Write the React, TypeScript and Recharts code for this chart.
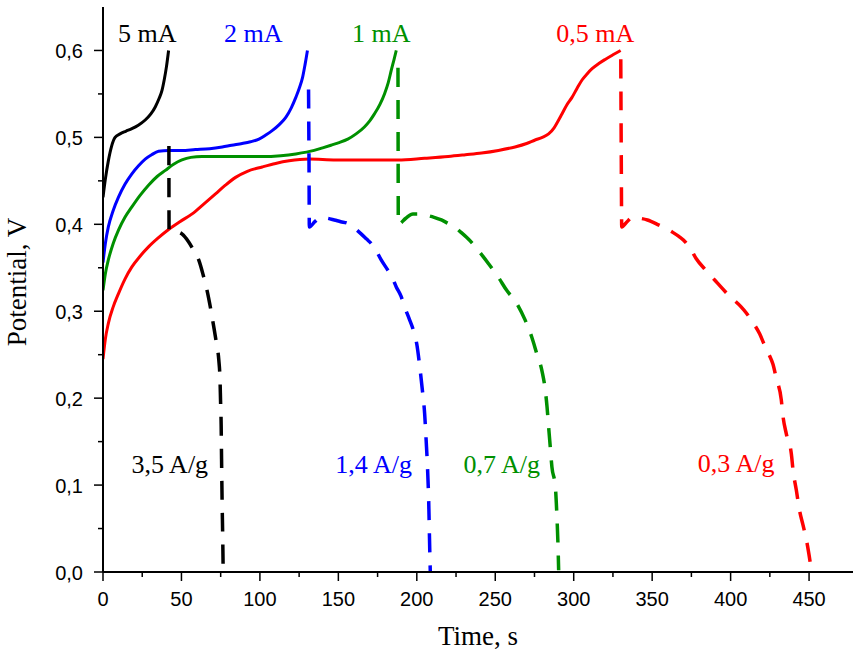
import React from "react"
import {
  LineChart,
  Line,
  XAxis,
  YAxis,
  ReferenceDot,
  Label,
} from "recharts"

// time (s) / potential (V) pairs
const charge5mA: [number, number][] = [
  [0, 0.431], [1.5, 0.452], [3.4, 0.473], [5.5, 0.49], [7.7, 0.5], [10.9, 0.504],
  [14.5, 0.507], [18.4, 0.51], [22.5, 0.514], [26.9, 0.52], [30.5, 0.527], [33.3, 0.535],
  [35.8, 0.545], [37.6, 0.554], [39.0, 0.566], [40.5, 0.582], [41.8, 0.6],
]
const discharge5mA: [number, number][] = [
  [42.0, 0.49], [42.1, 0.393], [46, 0.392], [50.3, 0.389], [54.5, 0.38], [57.8, 0.37],
  [61, 0.359], [63.8, 0.342], [66.3, 0.324], [68.6, 0.303], [70.6, 0.282], [72.4, 0.262],
  [73.8, 0.244], [74.6, 0.22], [74.9, 0.198], [75.3, 0.17], [75.5, 0.14], [75.7, 0.11],
  [75.9, 0.083], [76.3, 0.04], [76.6, 0.0],
]
const charge2mA: [number, number][] = [
  [0, 0.356], [1.5, 0.378], [3.4, 0.397], [6.5, 0.416], [9.8, 0.431], [14, 0.446],
  [18.4, 0.458], [22.5, 0.467], [26.9, 0.475], [31, 0.48], [35.4, 0.484], [41.8, 0.485],
  [50, 0.485], [58.9, 0.486], [68, 0.487], [76, 0.489], [82, 0.491], [88.7, 0.493],
  [94, 0.495], [99.4, 0.498], [104, 0.503], [108, 0.508], [112.5, 0.515], [116.5, 0.523],
  [120, 0.534], [122.9, 0.546], [125.2, 0.557], [127.2, 0.569], [128.8, 0.584], [130.3, 0.6],
]
const discharge2mA: [number, number][] = [
  [131.0, 0.555], [131.3, 0.47], [131.5, 0.397], [135, 0.403], [138.9, 0.408], [143, 0.407],
  [147.4, 0.405], [151.5, 0.403], [156, 0.401], [160, 0.396], [164.5, 0.389], [168, 0.383],
  [170.9, 0.378], [174, 0.37], [177.3, 0.359], [181.6, 0.347], [184.5, 0.338], [186.9, 0.328],
  [190, 0.317], [192.2, 0.305], [195, 0.292], [198, 0.277], [200, 0.262], [201.9, 0.236],
  [203.5, 0.21], [205, 0.182], [206, 0.15], [206.8, 0.121], [207.6, 0.08], [208.3, 0.021],
  [208.6, 0.0],
]
const charge1mA: [number, number][] = [
  [0, 0.324], [1.5, 0.343], [3.4, 0.359], [6.5, 0.378], [9.8, 0.393], [14, 0.408],
  [18.4, 0.42], [23.5, 0.433], [29, 0.445], [34.5, 0.455], [39.7, 0.462], [45, 0.469],
  [50.3, 0.474], [56, 0.477], [63.1, 0.478], [80.2, 0.478], [101.5, 0.478], [113.3, 0.479],
  [122.9, 0.481], [134.6, 0.485], [140, 0.488], [145.3, 0.491], [150.5, 0.494], [156, 0.498],
  [161.3, 0.504], [166.6, 0.512], [170, 0.519], [173, 0.527], [176.5, 0.538], [179.4, 0.55],
  [181.8, 0.563], [183.7, 0.577], [185.4, 0.589], [186.9, 0.6],
]
const discharge1mA: [number, number][] = [
  [188.0, 0.58], [188.1, 0.48], [188.2, 0.4], [193, 0.407], [197.5, 0.412], [202, 0.412],
  [207, 0.41], [211, 0.408], [215.7, 0.405], [220, 0.401], [224.2, 0.397], [228, 0.391],
  [231.7, 0.385], [235.5, 0.378], [239.2, 0.37], [245.6, 0.355], [252, 0.339], [257.3, 0.324],
  [263.7, 0.309], [269, 0.29], [273.3, 0.27], [276.5, 0.251], [279.7, 0.232], [281.9, 0.209],
  [283, 0.19], [284, 0.167], [285, 0.145], [286.1, 0.121], [288.3, 0.098], [289.3, 0.064],
  [290, 0.03], [290.4, 0.002],
]
const charge05mA: [number, number][] = [
  [0, 0.245], [1.5, 0.268], [3.4, 0.286], [6.5, 0.305], [9.8, 0.32], [14, 0.337],
  [18.4, 0.351], [23.5, 0.363], [29, 0.374], [35, 0.384], [41.8, 0.394], [49, 0.403],
  [56.8, 0.412], [64, 0.423], [71.7, 0.435], [78, 0.445], [84.5, 0.454], [92, 0.461],
  [101.5, 0.466], [110, 0.47], [118.6, 0.473], [131.4, 0.475], [148.5, 0.474], [161.3, 0.474],
  [175, 0.474], [188, 0.474], [205, 0.476], [220, 0.478], [231, 0.48], [241.3, 0.482],
  [252, 0.485], [262.6, 0.489], [270, 0.493], [275.4, 0.497], [280, 0.5], [284, 0.504],
  [287.5, 0.511], [290.4, 0.52], [292.5, 0.527], [295.5, 0.537], [298.9, 0.546], [302, 0.556],
  [305.3, 0.566], [308.5, 0.573], [311.7, 0.579], [316, 0.585], [320.3, 0.59], [325, 0.595],
  [329.9, 0.6],
]
const discharge05mA: [number, number][] = [
  [330.0, 0.59], [330.3, 0.48], [330.6, 0.397], [334, 0.403], [337.3, 0.408], [342, 0.407],
  [347, 0.405], [354.4, 0.399], [359, 0.395], [362.9, 0.391], [367, 0.386], [371.5, 0.379],
  [375, 0.37], [377.9, 0.361], [384.3, 0.347], [391.8, 0.332], [399, 0.318], [406.7, 0.305],
  [410, 0.298], [413.1, 0.29], [418.5, 0.274], [421.6, 0.261], [424.5, 0.25], [427, 0.239],
  [429.1, 0.223], [432.3, 0.198], [433.4, 0.179], [435.5, 0.159], [438.7, 0.136], [439.8, 0.117],
  [441.9, 0.094], [444.0, 0.07], [446, 0.055], [448.3, 0.037], [451.5, 0.002],
]

const xTicks = [0, 25, 50, 75, 100, 125, 150, 175, 200, 225, 250, 275, 300, 325, 350, 375, 400, 425, 450]
const yTicks = [0, 0.05, 0.1, 0.15, 0.2, 0.25, 0.3, 0.35, 0.4, 0.45, 0.5, 0.55, 0.6]

const currentLabels = ["5 mA", "2 mA", "1 mA", "0,5 mA"]
const densityLabels = ["3,5 A/g", "1,4 A/g", "0,7 A/g", "0,3 A/g"]
// where each label sits (time, potential of its baseline centre)
const currentLabelAt: [number, number][] = [[28.2, 0.61], [95.8, 0.61], [177.3, 0.61], [313.7, 0.61]]
const densityLabelAt: [number, number][] = [[42.6, 0.114], [172.5, 0.114], [254.1, 0.114], [403.5, 0.115]]

const colors = ["#000000", "#0000ff", "#009000", "#ff0000"]

const toPts = (arr: [number, number][]) => arr.map(([t, v]) => ({ t, v }))

const SANS = "Arial, 'Liberation Sans', sans-serif"
const SERIF = "'Times New Roman', 'Liberation Serif', serif"

const XTick = (props: any) => {
  const { x, y, payload } = props
  const major = payload.value % 50 === 0
  return (
    <g>
      <line x1={x} x2={x} y1={y} y2={y + (major ? 9 : 5)} stroke="#000" strokeWidth={1.5} />
      {major && (
        <text x={x} y={y + 34} textAnchor="middle" fontSize={20} fontFamily={SANS} fill="#000">
          {payload.value}
        </text>
      )}
    </g>
  )
}

const YTick = (props: any) => {
  const { x, y, payload } = props
  const major = Math.round(payload.value * 100) % 10 === 0
  return (
    <g>
      <line x1={x - (major ? 9 : 5)} x2={x} y1={y} y2={y} stroke="#000" strokeWidth={1.5} />
      {major && (
        <text x={x - 20} y={y + 7.5} textAnchor="end" fontSize={20} fontFamily={SANS} fill="#000">
          {payload.value.toFixed(1).replace(".", ",")}
        </text>
      )}
    </g>
  )
}

const note = (text: string, color: string) => (p: any) => {
  const vb = p.viewBox || {}
  const cx = (vb.x ?? 0) + (vb.width ?? 0) / 2
  const cy = (vb.y ?? 0) + (vb.height ?? 0) / 2
  return (
    <text x={cx} y={cy} textAnchor="middle" fontSize={26} fontFamily={SERIF} fill={color}>
      {text}
    </text>
  )
}

export default function App() {
  const charges = [charge5mA, charge2mA, charge1mA, charge05mA]
  const discharges = [discharge5mA, discharge2mA, discharge1mA, discharge05mA]

  return (
    <div style={{ position: "absolute", left: 0, top: 0, background: "#fff" }}>
      <LineChart width={861} height={661} margin={{ top: 7, right: 8, bottom: 0, left: 0 }}>
        <XAxis
          type="number"
          dataKey="t"
          domain={[0, 478]}
          ticks={xTicks}
          interval={0}
          allowDataOverflow
          height={89}
          tickSize={0}
          tickMargin={0}
          tickLine={false}
          tick={<XTick />}
          axisLine={{ stroke: "#000", strokeWidth: 2 }}
        >
          <Label
            content={(p: any) => {
              const vb = p.viewBox || {}
              return (
                <text
                  x={(vb.x ?? 103) + (vb.width ?? 750) / 2}
                  y={(vb.y ?? 572) + 73}
                  textAnchor="middle"
                  fontSize={27}
                  fontFamily={SERIF}
                  fill="#000"
                >
                  Time, s
                </text>
              )
            }}
          />
        </XAxis>
        <YAxis
          type="number"
          dataKey="v"
          domain={[0, 0.65]}
          ticks={yTicks}
          interval={0}
          allowDataOverflow
          width={103}
          tickSize={0}
          tickMargin={0}
          tickLine={false}
          tick={<YTick />}
          axisLine={{ stroke: "#000", strokeWidth: 2 }}
        >
          <Label
            content={() => (
              <text
                x={26}
                y={282}
                transform="rotate(-90, 26, 282)"
                textAnchor="middle"
                fontSize={27}
                fontFamily={SERIF}
                fill="#000"
              >
                Potential, V
              </text>
            )}
          />
        </YAxis>

        {charges.map((d, i) => (
          <Line
            key={`c${i}`}
            data={toPts(d)}
            dataKey="v"
            type="monotone"
            stroke={colors[i]}
            strokeWidth={3}
            dot={false}
            activeDot={false}
            isAnimationActive={false}
          />
        ))}
        {discharges.map((d, i) => (
          <Line
            key={`d${i}`}
            data={toPts(d)}
            dataKey="v"
            type="monotone"
            stroke={colors[i]}
            strokeWidth={3.5}
            strokeDasharray="19 13"
            dot={false}
            activeDot={false}
            isAnimationActive={false}
          />
        ))}

        {currentLabels.map((txt, i) => (
          <ReferenceDot
            key={`cl${i}`}
            x={currentLabelAt[i][0]}
            y={currentLabelAt[i][1]}
            r={0}
            fill="none"
            stroke="none"
            label={{ content: note(txt, colors[i]) }}
          />
        ))}
        {densityLabels.map((txt, i) => (
          <ReferenceDot
            key={`dl${i}`}
            x={densityLabelAt[i][0]}
            y={densityLabelAt[i][1]}
            r={0}
            fill="none"
            stroke="none"
            label={{ content: note(txt, colors[i]) }}
          />
        ))}
      </LineChart>
    </div>
  )
}
